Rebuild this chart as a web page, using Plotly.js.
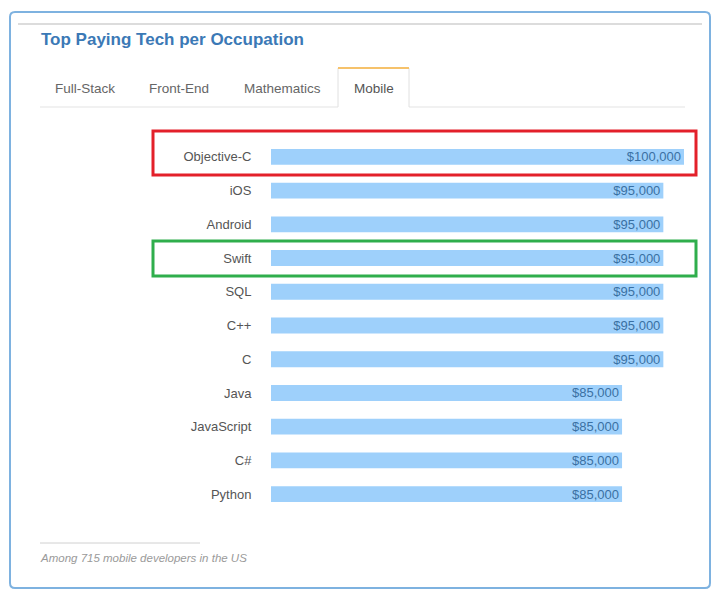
<!DOCTYPE html>
<html>
<head>
<meta charset="utf-8">
<script src="https://cdn.plot.ly/plotly-3.0.1.min.js"></script>
<style>
html,body{margin:0;padding:0;background:#fff;}
#chart{width:720px;height:600px;}
</style>
</head>
<body>
<div id="chart"></div>
<script>
// ---- data ----
const technologies = ["Objective-C","iOS","Android","Swift","SQL","C++","C","Java","JavaScript","C#","Python"];
const salaries = [100000,95000,95000,95000,95000,95000,95000,85000,85000,85000,85000];
const salaryLabels = ["$100,000","$95,000","$95,000","$95,000","$95,000","$95,000","$95,000","$85,000","$85,000","$85,000","$85,000"];
const tabNames = ["Full-Stack","Front-End","Mathematics","Mobile"];
const chartTitle = "Top Paying Tech per Occupation";
const footnote = "Among 715 mobile developers in the US";

// ---- helpers: pixel -> paper ----
const W = 720, H = 600;
const px = x => x / W;
const py = y => 1 - y / H;

const font = "Liberation Sans, Arial, Helvetica, sans-serif";

const trace = {
  type: "bar",
  orientation: "h",
  y: technologies,
  x: salaries,
  text: salaryLabels,
  textposition: "inside",
  insidetextanchor: "end",
  insidetextfont: {family: font, size: 13, color: "#3a70a3"},
  constraintext: "none",
  marker: {color: "#9ed0fb", line: {width: 0}},
  hoverinfo: "none",
  cliponaxis: false
};

function rect(x0, y0, x1, y1, color, w) {
  return {type: "rect", xref: "paper", yref: "paper",
    x0: px(x0), x1: px(x1), y0: py(y0), y1: py(y1),
    line: {color: color, width: w}, fillcolor: "rgba(0,0,0,0)"};
}
function line(x0, y0, x1, y1, color, w) {
  return {type: "line", xref: "paper", yref: "paper",
    x0: px(x0), x1: px(x1), y0: py(y0), y1: py(y1),
    line: {color: color, width: w}};
}
function roundedRect(x0, y0, x1, y1, r) {
  const P = (x, y) => px(x) + "," + py(y);
  return "M" + P(x0 + r, y0) + " L" + P(x1 - r, y0) + " Q" + P(x1, y0) + " " + P(x1, y0 + r) +
    " L" + P(x1, y1 - r) + " Q" + P(x1, y1) + " " + P(x1 - r, y1) +
    " L" + P(x0 + r, y1) + " Q" + P(x0, y1) + " " + P(x0, y1 - r) +
    " L" + P(x0, y0 + r) + " Q" + P(x0, y0) + " " + P(x0 + r, y0) + " Z";
}

const shapes = [
  {type: "path", xref: "paper", yref: "paper", path: roundedRect(10, 12, 710, 588, 5),
   line: {color: "#7eb2e0", width: 2}, fillcolor: "rgba(0,0,0,0)"},
  line(18, 24, 702, 24, "#b9b9b9", 1),
  // tab baseline
  line(40, 107, 338, 107, "#e3e3e3", 1),
  line(409, 107, 685, 107, "#e3e3e3", 1),
  // active tab sides
  line(338, 68, 338, 107, "#e0e0e0", 1),
  line(409, 68, 409, 107, "#e0e0e0", 1),
  line(338, 68, 409, 68, "#f6c26b", 2),
  // highlight boxes
  rect(153, 131, 696, 175, "#e3202a", 3),
  rect(153, 241, 696, 276, "#2fae4c", 3),
  // footer line
  line(40, 543, 200, 543, "#d0d0d0", 1)
];

const tabX = [85, 179, 282, 374];
const annotations = [
  {text: "<b>" + chartTitle + "</b>", xref: "paper", yref: "paper", x: px(39), y: py(40),
   xanchor: "left", yanchor: "middle", showarrow: false,
   font: {family: font, size: 17, color: "#3b79b6"}},
  {text: "<i>" + footnote + "</i>", xref: "paper", yref: "paper", x: px(38), y: py(558),
   xanchor: "left", yanchor: "middle", showarrow: false,
   font: {family: font, size: 11.5, color: "#9a9a9a"}}
];
tabNames.forEach((t, i) => {
  annotations.push({text: t, xref: "paper", yref: "paper", x: px(tabX[i]), y: py(88),
    xanchor: "center", yanchor: "middle", showarrow: false,
    font: {family: font, size: 13.5, color: i === 3 ? "#555555" : "#666666"}});
});

const layout = {
  width: W, height: H,
  margin: {l: 0, r: 0, t: 0, b: 0, pad: 0},
  paper_bgcolor: "#ffffff",
  plot_bgcolor: "rgba(0,0,0,0)",
  showlegend: false,
  bargap: 0.53,
  font: {family: font},
  xaxis: {domain: [px(271), px(684)], range: [0, 100000], fixedrange: true,
    showgrid: false, zeroline: false, showticklabels: false, showline: false, ticks: ""},
  yaxis: {domain: [py(511), py(140)], autorange: "reversed", fixedrange: true,
    type: "category", showgrid: false, zeroline: false, showline: false,
    ticks: "outside", ticklen: 16, tickcolor: "rgba(0,0,0,0)",
    tickfont: {family: font, size: 13, color: "#555555"}},
  shapes: shapes,
  annotations: annotations
};

Plotly.newPlot("chart", [trace], layout, {displayModeBar: false, staticPlot: true});
</script>
</body>
</html>
